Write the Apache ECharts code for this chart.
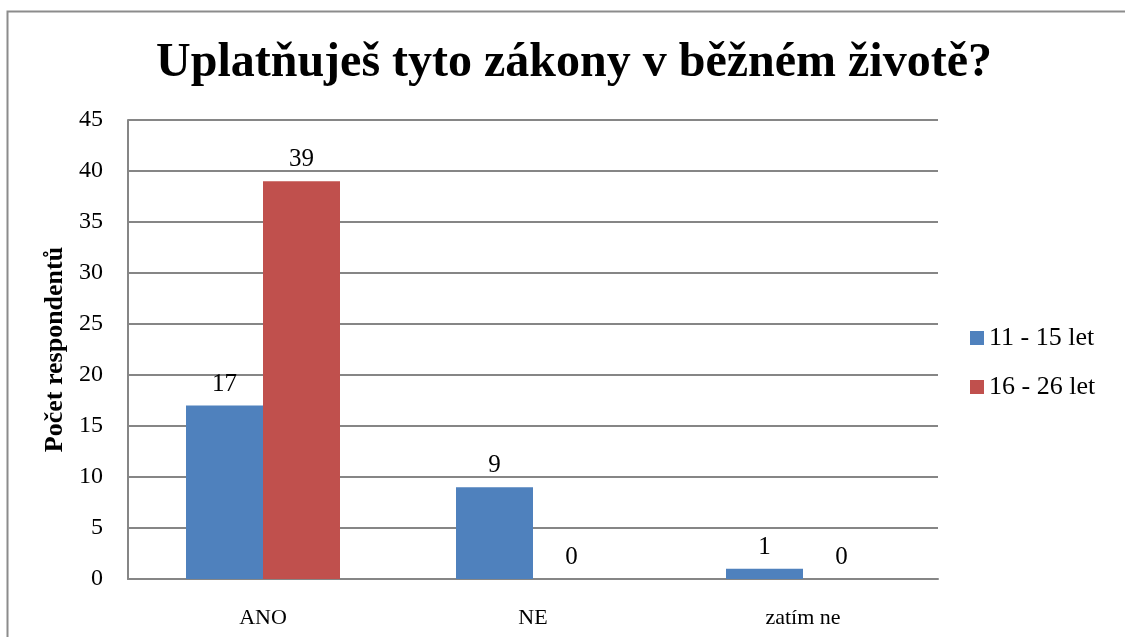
<!DOCTYPE html>
<html>
<head>
<meta charset="utf-8">
<script src="https://cdn.jsdelivr.net/npm/echarts@6/dist/echarts.min.js"></script>
<style>
  html, body { margin: 0; padding: 0; background: #fff; }
  #main { width: 1125px; height: 637px; }
</style>
</head>
<body>
<div id="main"></div>
<script>
// kategorie a hodnoty
var categories = ["ANO", "NE", "zatím ne"];
var young = [17, 9, 1];   // 11 - 15 let
var older = [39, 0, 0];   // 16 - 26 let
var seriesNames = ["11 - 15 let", "16 - 26 let"];
var yTicks = [0, 45, 5]; // min, max, krok

var font = "'Liberation Serif', 'Times New Roman', serif";
var chart = echarts.init(document.getElementById("main"));
chart.setOption({
  backgroundColor: "#FFFFFF",
  animation: false,
  textStyle: { fontFamily: font, color: "#000" },
  // ramecek grafu
  graphic: [{
    type: "rect",
    shape: { x: 7.5, y: 11.5, width: 1140, height: 660 },
    style: { fill: "none", stroke: "#8c8c8c", lineWidth: 2 }
  }],
  title: {
    text: "Uplatňuješ tyto zákony v běžném životě?",
    left: 569, top: 35, textAlign: "center",
    textStyle: { fontFamily: font, fontSize: 48, fontWeight: "bold", color: "#000" }
  },
  legend: {
    orient: "vertical",
    left: 965, top: 320,
    itemWidth: 14, itemHeight: 14, itemGap: 23,
    icon: "rect",
    textStyle: { fontFamily: font, fontSize: 26, lineHeight: 26, color: "#000" },
    data: seriesNames
  },
  grid: { left: 128, right: 187, top: 120, bottom: 58 },
  xAxis: {
    type: "category",
    data: categories,
    axisLine: { lineStyle: { color: "#868686", width: 2 } },
    axisTick: { show: false },
    axisLabel: { fontFamily: font, fontSize: 22, color: "#000", margin: 28 }
  },
  yAxis: {
    type: "value",
    min: yTicks[0], max: yTicks[1], interval: yTicks[2],
    name: "Počet respondentů",
    nameLocation: "middle",
    nameGap: 59,
    nameTextStyle: { fontFamily: font, fontSize: 26, fontWeight: "bold", color: "#000" },
    axisLine: { show: true, lineStyle: { color: "#868686", width: 2 } },
    axisTick: { show: false },
    axisLabel: { fontFamily: font, fontSize: 24, color: "#000", margin: 25 },
    splitLine: { lineStyle: { color: "#868686", width: 2 } }
  },
  series: [
    {
      name: seriesNames[0], type: "bar", data: young,
      barWidth: 77, barGap: "0%",
      itemStyle: { color: "#4F81BD" },
      label: { show: true, position: "top", distance: 9, fontFamily: font, fontSize: 25, color: "#000" }
    },
    {
      name: seriesNames[1], type: "bar", data: older,
      barWidth: 77, barGap: "0%",
      itemStyle: { color: "#C0504D" },
      label: { show: true, position: "top", distance: 9, fontFamily: font, fontSize: 25, color: "#000" }
    }
  ]
});
</script>
</body>
</html>
